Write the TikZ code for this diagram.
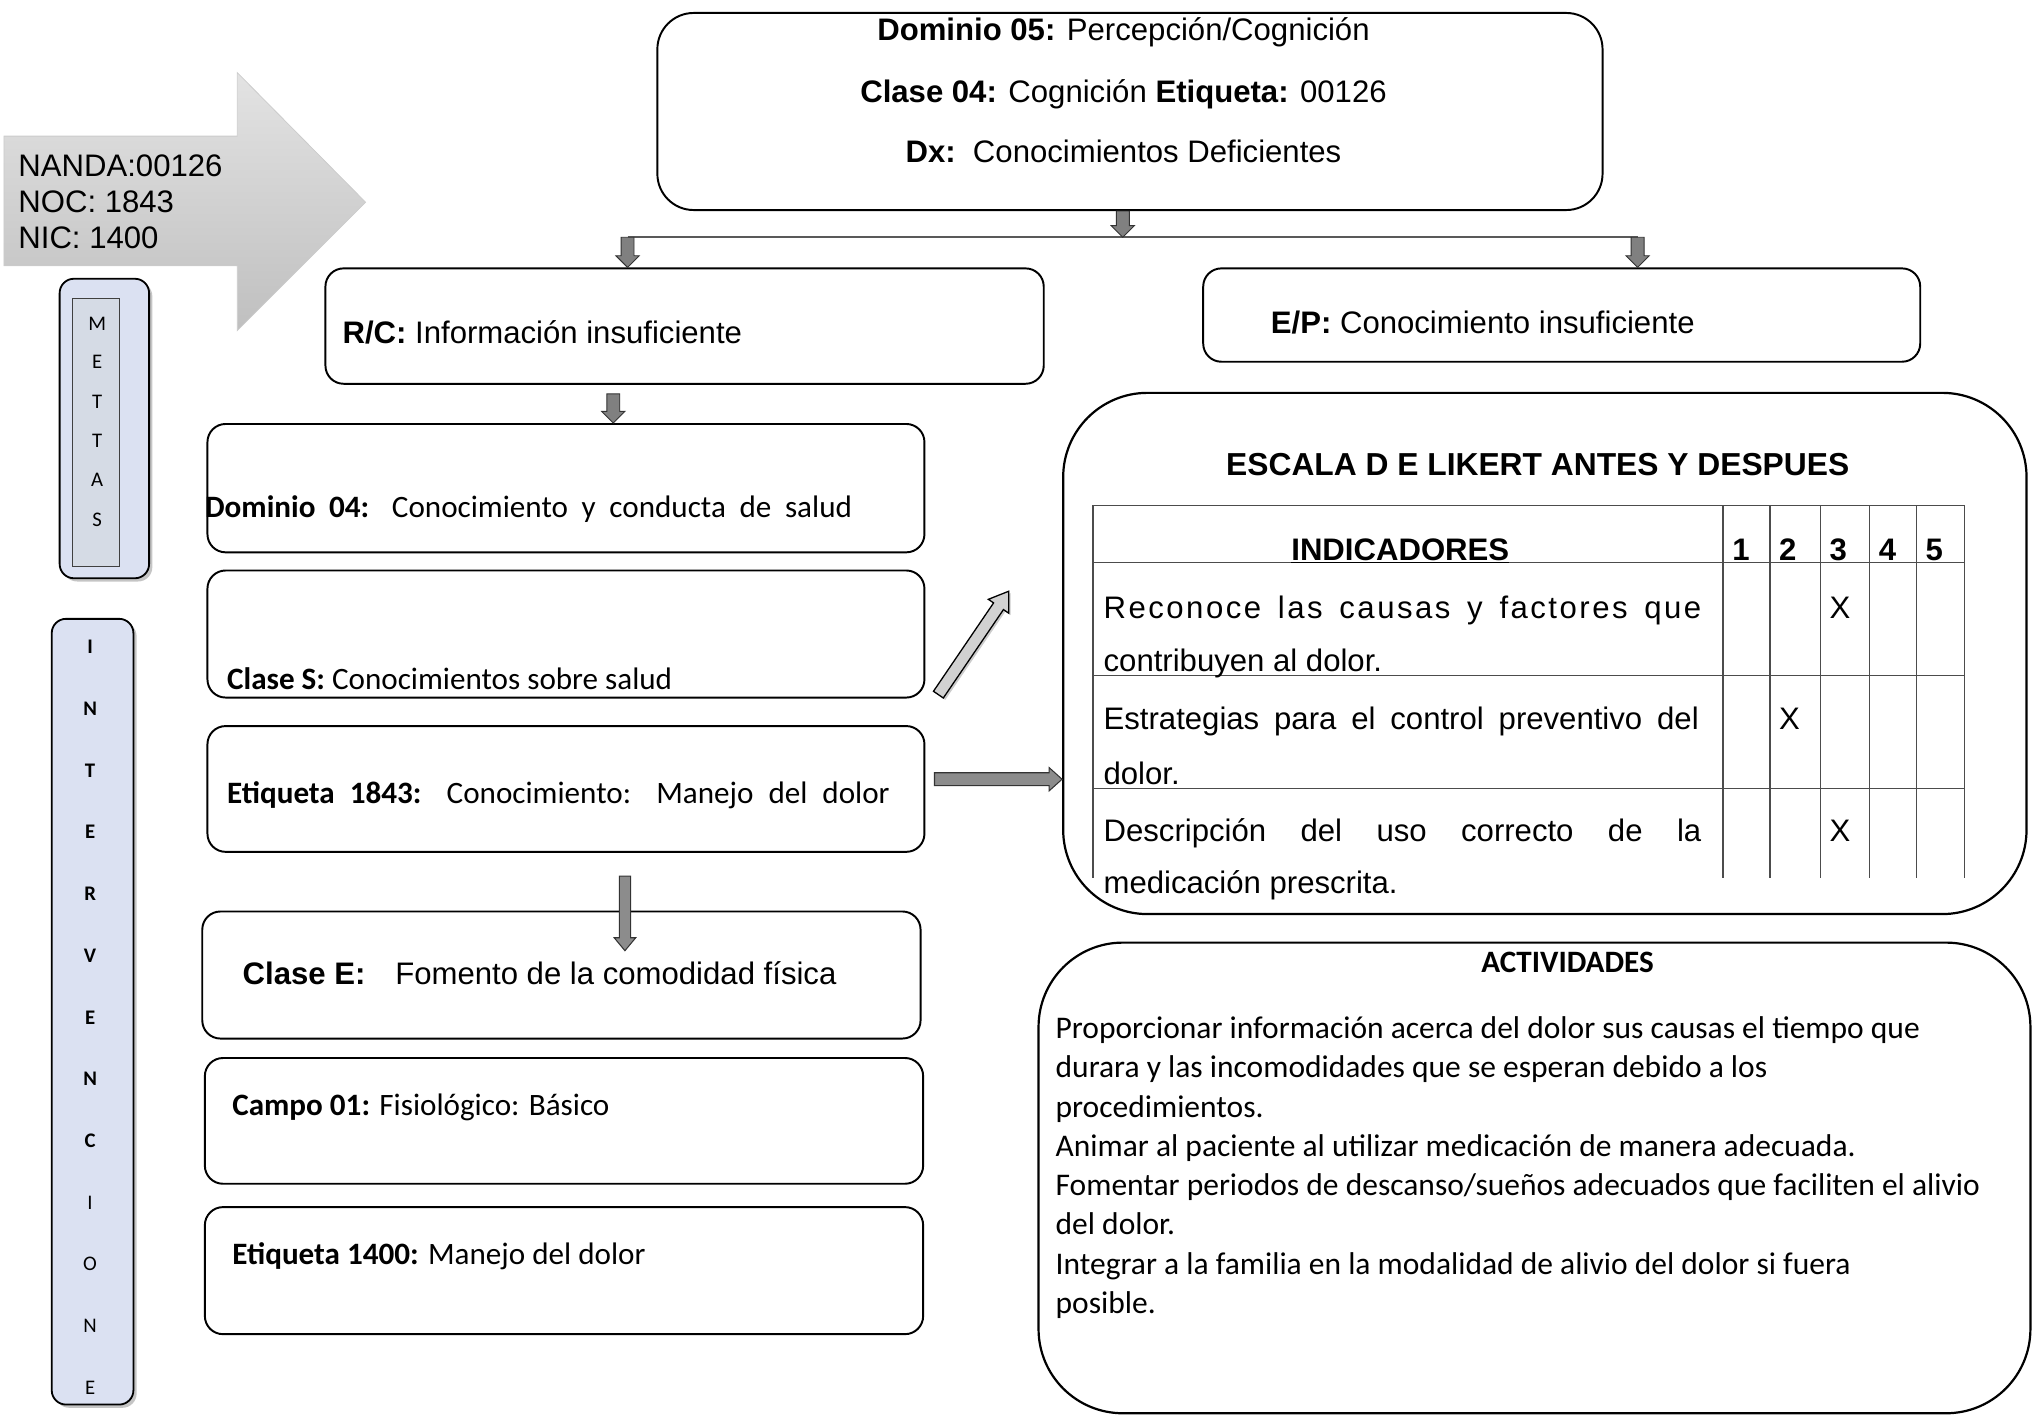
\documentclass[tikz,border=0pt]{standalone}
\usepackage{fontspec}
\setmainfont{Liberation Sans}
\newfontfamily\calf{Carlito}
\usetikzlibrary{calc,shadows}
\definecolor{lav}{RGB}{219,225,242}
\definecolor{lavin}{RGB}{213,219,229}
\newcommand\blkarrow[6]{%
  \coordinate (bneck) at ($(#3)!#6!(#2)$);
  \draw[#1] ($(#2)!#4!90:(#3)$) -- ($(bneck)!#4!-90:(#2)$) -- ($(bneck)!#5!-90:(#2)$) -- (#3)
     -- ($(bneck)!#5!90:(#2)$) -- ($(bneck)!#4!90:(#2)$) -- ($(#2)!#4!-90:(#3)$) -- cycle;}
\begin{document}
\begin{tikzpicture}[x=1pt,y=-1pt,
  box/.style={draw=black, line width=1.5pt, rounded corners=14pt, inner sep=0pt},
  bigbox/.style={draw=black, line width=1.7pt, rounded corners=65pt, inner sep=0pt},
  sidebox/.style={draw=black, line width=1.4pt, rounded corners=11pt, fill=lav, inner sep=0pt,
     drop shadow={shadow xshift=2.5pt, shadow yshift=-2.5pt, fill=black!45}},
  ar/.style={font=\fontsize{24}{28}\selectfont, inner sep=0pt, anchor=base west},
  arc/.style={font=\fontsize{24}{28}\selectfont, inner sep=0pt, anchor=base},
  cb/.style={font=\calf\fontsize{24}{28}\selectfont, inner sep=0pt, anchor=base west},
  cbc/.style={font=\calf\fontsize{24}{28}\selectfont, inner sep=0pt, anchor=base},
  act/.style={font=\calf\fontsize{24.3}{29}\selectfont, inner sep=0pt, anchor=base west},
  letter/.style={font=\calf\fontsize{16}{18}\selectfont, inner sep=0pt, anchor=center},
  tline/.style={draw=black!70, line width=1.2pt},
  hline/.style={draw=black!65, line width=1.4pt},
  darkarr/.style={fill=black!50, draw=black!80, line width=0.7pt},
  midarr/.style={fill=black!45, draw=black!80, line width=0.8pt},
  lightarr/.style={fill=black!18, draw=black, line width=1pt,
     drop shadow={shadow xshift=1.5pt, shadow yshift=-1.5pt, fill=black!40}}
]
\useasboundingbox (0,0) rectangle (1568,1091);

% big gray arrow
\path[draw=black!20, line width=0.6pt, top color=black!11, bottom color=black!25]
  (3,105) -- (183,105) -- (183,56) -- (282,156) -- (183,255) -- (183,205) -- (3,205) -- cycle;
\node[ar] (nanda) at (14,136) {NANDA:00126};
\node[ar] (noc) at (14,164) {NOC: 1843};
\node[ar] (nic) at (14,192) {NIC: 1400};

% METTAS
\node[sidebox, minimum width=69pt, minimum height=231pt] (mettas) at (80.5,330.5) {};
\node[draw=black!75, line width=1pt, fill=lavin, minimum width=36pt, minimum height=207pt, inner sep=0pt] (mettasin) at (74,333.5) {};
\foreach \l/\y [count=\i] in {M/250,E/279,T/310,T/340,A/370,S/401}
  \node[letter] (mt\i) at (75,\y) {\l};

% INTERVENCIONES
\node[sidebox, minimum width=63pt, minimum height=606pt] (interv) at (71.4,780.3) {};
\foreach \l [count=\i] in {I,N,T,E,R,V,E,N,C}
  \node[letter, font=\calf\bfseries\fontsize{16}{18}\selectfont] (iv\i) at (69.5,{499+47.6*(\i-1)}) {\l};
\foreach \l [count=\i from 10] in {I,O,N,E}
  \node[letter] (iv\i) at (69.5,{499+47.6*(\i-1)}) {\l};

% top box
\node[box, rounded corners=28pt, minimum width=729pt, minimum height=152pt] (top) at (871.5,86) {};
\node[arc] (d5) at (866.5,31) {\textbf{Dominio 05:} Percepción/Cognición};
\node[arc] (c4) at (866.5,79) {\textbf{Clase 04:} Cognición \textbf{Etiqueta:} 00126};
\node[arc] (dx) at (866.5,125) {\textbf{Dx:}\ \ Conocimientos Deficientes};

% R/C and E/P
\node[box, minimum width=554pt, minimum height=89pt] (rc) at (528,251.5) {};
\node[ar] (rct) at (264,265) {\textbf{R/C:} Información insuficiente};
\node[box, minimum width=553pt, minimum height=72pt] (ep) at (1204.5,243) {};
\node[ar] (ept) at (980,257) {\textbf{E/P:} Conocimiento insuficiente};

% connectors at top
\coordinate (t1) at ($(top.south)+(-5.5,0)$);
\coordinate (bar) at (866,183);
\coordinate (barL) at (484,183);
\coordinate (barR) at (1263,183);
\coordinate (rcin) at (barL |- rc.north);
\coordinate (epin) at (barR |- ep.north);
\draw[hline] (barL) -- (barR);
\blkarrow{darkarr}{t1}{bar}{5pt}{9pt}{9pt}
\blkarrow{darkarr}{barL}{rcin}{5pt}{9pt}{9pt}
\blkarrow{darkarr}{barR}{epin}{5pt}{9pt}{9pt}

% left column boxes
\node[box, minimum width=553pt, minimum height=99pt] (dom4) at (436.5,376.5) {};
\node[cb] (dom4t) at (158,399) {\makebox[499pt][s]{\textbf{Dominio 04:} Conocimiento y conducta de salud}};
\node[box, minimum width=553pt, minimum height=98pt] (cls) at (436.5,489) {};
\node[cb] (clst) at (175,532) {\textbf{Clase S:} Conocimientos sobre salud};
\node[box, minimum width=553pt, minimum height=97pt] (et18) at (436.5,608.5) {};
\node[cb] (et18t) at (175,620) {\makebox[511pt][s]{\textbf{Etiqueta 1843:} Conocimiento: Manejo del dolor}};
\node[box, minimum width=554pt, minimum height=98pt] (cle) at (433,752) {};
\node[ar] (clet) at (187,759) {\textbf{Clase E:}\hspace{23pt}Fomento de la comodidad física};
\node[box, minimum width=554pt, minimum height=97pt] (campo) at (435,864.5) {};
\node[cb] (campot) at (179,860) {\textbf{Campo 01:} Fisiológico: Básico};
\node[box, minimum width=554pt, minimum height=98pt] (et14) at (435,980) {};
\node[cb] (et14t) at (179,975) {\textbf{Etiqueta 1400:} Manejo del dolor};

\coordinate (u1) at ($(rc.south)+(-55,7)$);
\coordinate (u2) at (u1 |- dom4.north);
\blkarrow{darkarr}{u1}{u2}{5pt}{9pt}{9pt}
\coordinate (v1) at ($(et18.south)+(45.5,18)$);
\coordinate (v2) at ($(cle.north)+(49,31)$);
\blkarrow{midarr}{v1}{v2}{4.3pt}{8.3pt}{10pt}

% Likert box
\node[bigbox, minimum width=743pt, minimum height=402pt] (likert) at (1191.5,504) {};
\node[arc, font=\bfseries\fontsize{24.5}{28}\selectfont] (esc) at (1186,367) {ESCALA D E LIKERT ANTES Y DESPUES};

\coordinate (g1) at ($(cls.south east)+(10,-3)$);
\coordinate (g2) at (778,456);
\blkarrow{lightarr}{g1}{g2}{4.6pt}{9.5pt}{14pt}
\coordinate (h1) at ($(et18.east)+(7,-7.5)$);
\coordinate (h2) at (h1 -| likert.west);
\blkarrow{midarr}{h1}{h2}{5pt}{9pt}{10pt}

% table
\draw[tline] (843,677) -- (843,390) -- (1515,390) -- (1515,677);
\foreach \x in {1329,1365,1404,1442,1478} \draw[tline] (\x,390) -- (\x,677);
\foreach \y in {434,521,608} \draw[tline] (843,\y) -- (1515,\y);
\node[arc] (ind) at (1080,432) {\underline{\textbf{INDICADORES}}};
\foreach \n/\x in {1/1336,2/1372,3/1411,4/1449,5/1485}
  \node[ar] (num\n) at (\x,432) {\textbf{\n}};
\node[ar] (r1a) at (851,477) {\makebox[461pt][s]{\addfontfeature{LetterSpace=8}Reconoce las causas y factores que}};
\node[ar] (r1b) at (851,518) {contribuyen al dolor.};
\node[ar] (r2a) at (851,563) {\makebox[459pt][s]{Estrategias para el control preventivo del}};
\node[ar] (r2b) at (851,605) {dolor.};
\node[ar] (r3a) at (851,649) {\makebox[461pt][s]{Descripción del uso correcto de la}};
\node[ar] (r3b) at (851,689) {medicación prescrita.};
\node[ar] (x1) at (1411,477) {X};
\node[ar] (x2) at (1372,563) {X};
\node[ar] (x3) at (1411,649) {X};

% ACTIVIDADES
\node[bigbox, minimum width=765pt, minimum height=363pt] (actbox) at (1183.5,908.5) {};
\node[cbc, font=\calf\bfseries\fontsize{24}{28}\selectfont] (actt) at (1209,750) {ACTIVIDADES};
\foreach \t [count=\i] in {
  {Proporcionar información acerca del dolor sus causas el tiempo que},
  {durara y las incomodidades que se esperan debido a los},
  {procedimientos.},
  {Animar al paciente al utilizar medicación de manera adecuada.},
  {Fomentar periodos de descanso/sueños adecuados que faciliten el alivio},
  {del dolor.},
  {Integrar a la familia en la modalidad de alivio del dolor si fuera},
  {posible.}}
  \node[act] (act\i) at (814,{801+30.3*(\i-1)}) {\t};
\end{tikzpicture}
\end{document}
